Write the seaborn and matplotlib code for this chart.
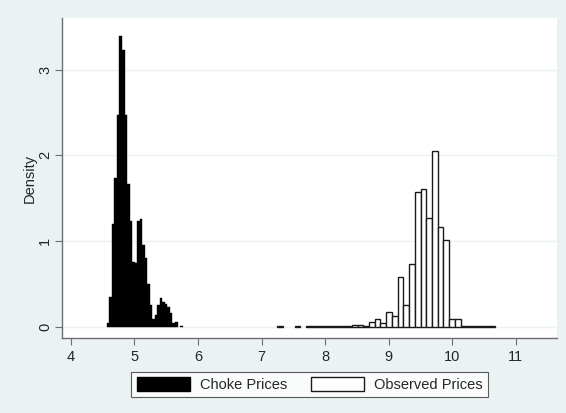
import numpy as np
import pandas as pd
import matplotlib
matplotlib.use('Agg')
import matplotlib.pyplot as plt
from matplotlib.patches import Patch
import seaborn as sns

# 读出的直方图数据 (density)
choke_start = 4.566
choke_width = 0.0397
choke_density = [0.04, 0.35, 1.20, 1.73, 2.47, 3.39, 3.23, 2.47, 1.67, 1.23,
                 0.76, 0.74, 1.23, 1.26, 0.95, 0.80, 0.50, 0.25, 0.085, 0.14,
                 0.25, 0.33, 0.29, 0.27, 0.23, 0.16, 0.04, 0.05, 0.0, 0.01]

obs_start = 7.25
obs_width = 0.09
obs_density = [0.005, 0.0, 0.0, 0.005, 0.0, 0.005, 0.005, 0.005, 0.005, 0.005,
               0.007, 0.012, 0.005, 0.015, 0.02, 0.01, 0.058, 0.09, 0.039, 0.175,
               0.128, 0.576, 0.253, 0.73, 1.576, 1.61, 1.265, 2.05, 1.16, 1.01,
               0.086, 0.086, 0.01, 0.005, 0.005, 0.005, 0.005, 0.005]

x_ticks = [4, 5, 6, 7, 8, 9, 10, 11]
y_ticks = [0, 1, 2, 3]
labels = ['Choke Prices', 'Observed Prices']

bg = '#eaf2f3'
sns.set_style('white')
plt.rcParams['font.family'] = ['Liberation Sans', 'DejaVu Sans']

fig = plt.figure(figsize=(5.66, 4.13), dpi=100, facecolor=bg)
ax = fig.add_axes([0.1095, 0.182, 0.875, 0.774])
ax.set_facecolor('white')

# choke prices
ce = choke_start + choke_width * np.arange(len(choke_density) + 1)
df_c = pd.DataFrame({'x': ce[:-1] + choke_width / 2, 'w': choke_density})
sns.histplot(data=df_c, x='x', weights='w', bins=list(ce), stat='count', ax=ax,
             color='black', edgecolor='black', linewidth=0.3, alpha=1)

# observed prices
oe = obs_start + obs_width * np.arange(len(obs_density) + 1)
df_o = pd.DataFrame({'x': oe[:-1] + obs_width / 2, 'w': obs_density})
sns.histplot(data=df_o, x='x', weights='w', bins=list(oe), stat='count', ax=ax,
             color='white', edgecolor='#1a1a1a', linewidth=1.0, alpha=1)

# empty bins are not drawn in the original
for p in list(ax.patches):
    if p.get_height() == 0:
        p.remove()

ax.set_xlim(3.86, 11.65)
ax.set_ylim(-0.13, 3.6)
ax.set_xticks(x_ticks)
ax.set_yticks(y_ticks)
ax.grid(axis='y', color=bg, linewidth=1.0)
ax.set_axisbelow(True)
for s in ['top', 'right']:
    ax.spines[s].set_visible(False)
for s in ['left', 'bottom']:
    ax.spines[s].set_color('#6e6e6e')
    ax.spines[s].set_linewidth(1.0)
ax.tick_params(axis='both', direction='out', length=5, width=0.8,
               color='#6e6e6e', labelsize=10.5, left=True, bottom=True)
ax.tick_params(axis='y', labelrotation=90, pad=2)
for t in ax.get_yticklabels():
    t.set_verticalalignment('center')
ax.set_xlabel('')
ax.set_ylabel('Density', fontsize=10.5, labelpad=1)

handles = [Patch(facecolor='black', edgecolor='black'),
           Patch(facecolor='white', edgecolor='#1a1a1a')]
leg = fig.legend(handles, labels, loc='center', bbox_to_anchor=(0.547, 0.07),
                 ncol=2, frameon=True, fancybox=False, handlelength=3.65,
                 handleheight=1.1, columnspacing=1.6, fontsize=10.5,
                 borderpad=0.35, handletextpad=0.7)
leg.get_frame().set_edgecolor('#333333')
leg.get_frame().set_linewidth(0.8)

fig.savefig('out.png', dpi=100, facecolor=bg)
